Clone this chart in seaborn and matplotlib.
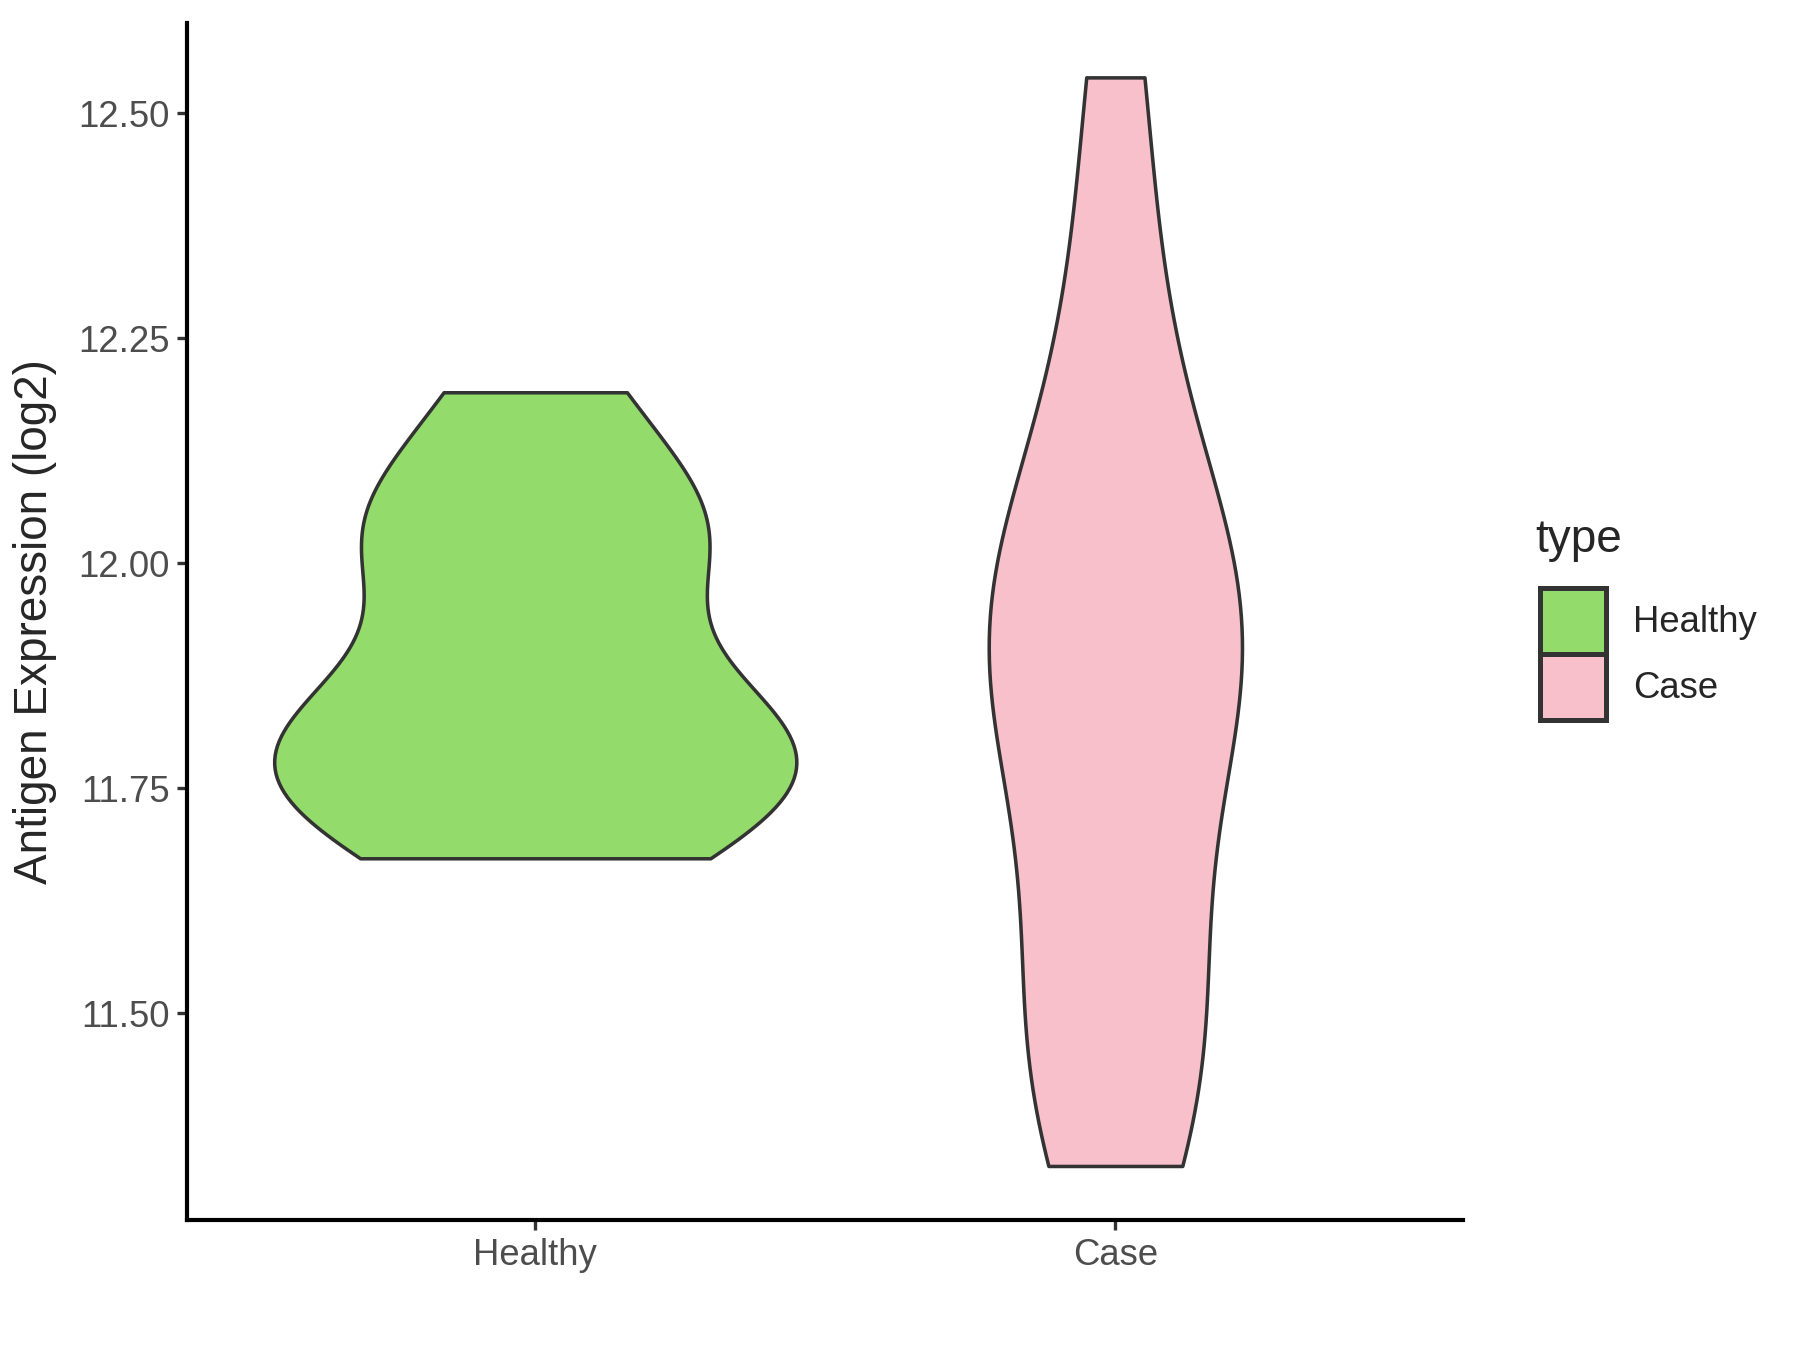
import pandas as pd
import seaborn as sns
import matplotlib
import matplotlib.pyplot as plt
from matplotlib.patches import Patch

matplotlib.use("Agg")

# Datos estimados a partir de la figura
healthy_vals = [11.672, 11.72, 11.76, 11.79, 11.82, 11.85, 12.00, 12.03, 12.07, 12.19]
case_vals = [11.33, 11.40, 11.47, 11.52, 11.65, 11.80, 11.86, 11.90, 11.93, 11.96,
             12.02, 12.15, 12.30, 12.54]
groups = ["Healthy", "Case"]
colors = {"Healthy": "#93DB6B", "Case": "#F8C0CB"}
y_ticks = [11.50, 11.75, 12.00, 12.25, 12.50]

df = pd.DataFrame({
    "type": ["Healthy"] * len(healthy_vals) + ["Case"] * len(case_vals),
    "value": healthy_vals + case_vals,
})

sns.set_style("white")
plt.rcParams["font.family"] = ["Liberation Sans", "DejaVu Sans"]

fig = plt.figure(figsize=(12, 9), dpi=150)
ax = fig.add_axes([0.104, 0.096, 0.709, 0.887])

sns.violinplot(
    data=df, x="type", y="value", hue="type", order=groups, hue_order=groups,
    palette=colors, saturation=1, density_norm="area", common_norm=True,
    cut=0, inner=None, width=0.9, bw_adjust=0.85, linewidth=1.7,
    linecolor="#333333", legend=False, ax=ax,
)

ax.set_xlim(-0.6, 1.6)
ax.set_ylim(11.2695, 12.6005)
ax.set_yticks(y_ticks)
ax.set_yticklabels([f"{t:.2f}" for t in y_ticks])
ax.set_xlabel("")
ax.set_ylabel("Antigen Expression (log2)", fontsize=22, labelpad=10)
ax.tick_params(axis="both", labelsize=17.5, labelcolor="#4D4D4D", color="#333333",
               length=5, width=1.6, direction="out", left=True, bottom=True)
for side in ["top", "right"]:
    ax.spines[side].set_visible(False)
for side in ["left", "bottom"]:
    ax.spines[side].set_color("black")
    ax.spines[side].set_linewidth(2.0)

# Leyenda: título aparte para dejar el hueco como en ggplot
fig.text(0.853, 0.60, "type", fontsize=22, ha="left", va="center")
handles = [Patch(facecolor=colors[g], edgecolor="#333333", linewidth=2.4) for g in groups]
leg = fig.legend(
    handles, groups, loc="center left", bbox_to_anchor=(0.8457, 0.5156),
    frameon=False, fontsize=17.5, handlelength=1.8, handleheight=2.4,
    labelspacing=0.0, handletextpad=0.75, borderpad=0,
)

fig.savefig("out.png", dpi=150, facecolor="white")
